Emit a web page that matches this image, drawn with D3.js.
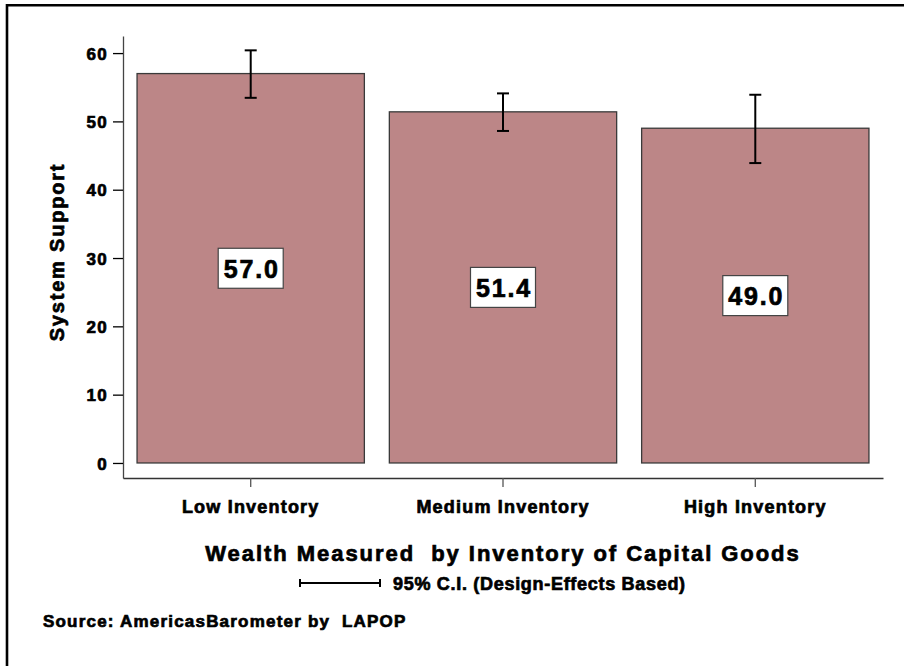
<!DOCTYPE html>
<html><head><meta charset="utf-8">
<script src="https://cdn.jsdelivr.net/npm/d3@7"></script>
<style>body{margin:0;background:#fff}svg{display:block}text{font-family:"Liberation Sans",Arial,sans-serif;font-weight:bold;fill:#000;stroke:#000;stroke-width:0.7px;white-space:pre}</style>
</head><body><div id="chart"></div>
<script>
const categories = ["Low Inventory", "Medium Inventory", "High Inventory"];
const means = [57.0, 51.4, 49.0];
const ciLow = [53.45, 48.6, 43.9];
const ciHigh = [60.4, 54.1, 53.9];
const yTicks = [0, 10, 20, 30, 40, 50, 60];
const yLabel = "System Support";
const xTitle = "Wealth Measured  by Inventory of Capital Goods";
const legendText = "95% C.I. (Design-Effects Based)";
const sourceText = "Source: AmericasBarometer by  LAPOP";

const W = 904, H = 666;
const svg = d3.select("#chart").append("svg").attr("width", W).attr("height", H);

// frame (left and top edges visible)
svg.append("path").attr("d", "M7,700 L7,5.3 L1000,5.3")
  .attr("fill", "none").attr("stroke", "#000").attr("stroke-width", 2.6);

const x = d3.scaleBand().domain(categories).range([123, 883]).paddingInner(0.099).paddingOuter(0.0557);
const y = d3.scaleLinear().domain([-2.2, 62.5]).range([478, 36]);

// bars
svg.selectAll("rect.bar").data(categories).join("rect").attr("class", "bar")
  .attr("x", d => x(d)).attr("width", x.bandwidth())
  .attr("y", (d, i) => y(means[i])).attr("height", (d, i) => y(0) - y(means[i]))
  .attr("fill", "#BC8687").attr("stroke", "#3a3a3a").attr("stroke-width", 1.3);

// error bars
const eb = svg.append("g").attr("stroke", "#000").attr("stroke-width", 2);
categories.forEach((c, i) => {
  const cx = x(c) + x.bandwidth() / 2;
  eb.append("line").attr("x1", cx).attr("x2", cx).attr("y1", y(ciLow[i])).attr("y2", y(ciHigh[i]));
  eb.append("line").attr("x1", cx - 6).attr("x2", cx + 6).attr("y1", y(ciLow[i])).attr("y2", y(ciLow[i]));
  eb.append("line").attr("x1", cx - 6).attr("x2", cx + 6).attr("y1", y(ciHigh[i])).attr("y2", y(ciHigh[i]));
});

// value labels
categories.forEach((c, i) => {
  const cx = x(c) + x.bandwidth() / 2;
  const cy = y(means[i] / 2);
  svg.append("rect").attr("x", cx - 32.5).attr("y", cy - 20).attr("width", 65).attr("height", 40)
    .attr("fill", "#fff").attr("stroke", "#444").attr("stroke-width", 1.2);
  svg.append("text").attr("x", cx + 1).attr("y", cy + 9.5).attr("text-anchor", "middle")
    .style("font-size", "25px").style("letter-spacing", "1.8px").text(means[i].toFixed(1));
});

// y axis
const yAxis = svg.append("g").attr("transform", "translate(123,0)")
  .call(d3.axisLeft(y).tickValues(yTicks).tickSize(10).tickSizeOuter(0).tickPadding(5));
yAxis.select(".domain").attr("stroke", "#444").attr("stroke-width", 1.3);
yAxis.selectAll(".tick line").attr("stroke", "#000").attr("stroke-width", 1.3);
yAxis.selectAll(".tick text").style("font-size", "17px").style("letter-spacing", "1.3px")
  .style("font-family", "'Liberation Sans',Arial,sans-serif").style("font-weight", "bold")
  .attr("fill", "#000").attr("dy", "0.36em");

// x axis
const xAxis = svg.append("g").attr("transform", "translate(0,478)")
  .call(d3.axisBottom(x).tickSize(9).tickSizeOuter(0).tickPadding(11));
xAxis.select(".domain").attr("stroke", "#333").attr("stroke-width", 1.3);
xAxis.selectAll(".tick line").attr("stroke", "#555").attr("stroke-width", 1.3);
xAxis.selectAll(".tick text").style("font-size", "18px").style("letter-spacing", "1.2px")
  .style("font-family", "'Liberation Sans',Arial,sans-serif").style("font-weight", "bold")
  .attr("fill", "#000").attr("dy", "0.85em");

// y label
svg.append("text").attr("transform", "translate(64,252) rotate(-90)").attr("text-anchor", "middle")
  .style("font-size", "20px").style("letter-spacing", "1.8px").text(yLabel);

// x title
svg.append("text").attr("x", 503).attr("y", 561).attr("text-anchor", "middle")
  .style("font-size", "22px").style("letter-spacing", "1.95px").text(xTitle);

// legend
const lg = svg.append("g").attr("stroke", "#000").attr("stroke-width", 2);
lg.append("line").attr("x1", 299).attr("x2", 381).attr("y1", 583).attr("y2", 583);
lg.append("line").attr("x1", 300).attr("x2", 300).attr("y1", 579).attr("y2", 587);
lg.append("line").attr("x1", 380).attr("x2", 380).attr("y1", 579).attr("y2", 587);
svg.append("text").attr("x", 393).attr("y", 590).style("font-size", "18px").style("letter-spacing", "0.7px").text(legendText);

// source
svg.append("text").attr("x", 43).attr("y", 627).style("font-size", "17px").style("letter-spacing", "1.2px").text(sourceText);
</script></body></html>
